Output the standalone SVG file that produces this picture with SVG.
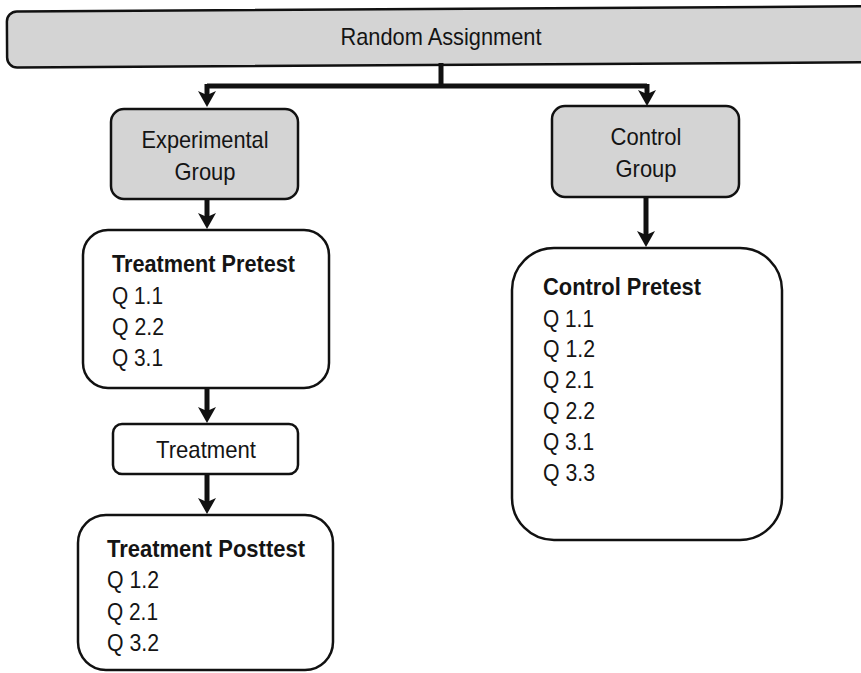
<svg xmlns="http://www.w3.org/2000/svg" width="861" height="673" viewBox="0 0 861 673">
  <style>
    .box { fill: #ffffff; stroke: #111111; stroke-width: 2.5; }
    .gray { fill: #d4d4d4; stroke: #111111; stroke-width: 2.5; }
    .t { font-family: "Liberation Sans", Arial, Helvetica, sans-serif; font-size: 24px; fill: #141414; }
    .c { text-anchor: middle; }
    .b { font-weight: bold; }
    .conn { fill: none; stroke: #111111; stroke-width: 5; }
  </style>
  <defs>
    <marker id="ah" viewBox="0 0 16 18" refX="10" refY="9" markerWidth="16" markerHeight="18" markerUnits="userSpaceOnUse" orient="auto">
      <path d="M0,0 L16,9 L0,18 L4,9 Z" fill="#111111"/>
    </marker>
  </defs>
  <rect width="861" height="673" fill="#ffffff"/>

  <g id="random-assignment">
    <rect class="gray" x="7" y="9" width="890" height="56" rx="10" transform="rotate(-0.35 430 37)"/>
    <text class="t c" x="441" y="45" textLength="201" lengthAdjust="spacingAndGlyphs">Random Assignment</text>
  </g>

  <g id="connectors">
    <path class="conn" d="M441,63 V86" />
    <path class="conn" d="M207,86 H647" stroke-width="6"/>
    <path class="conn" d="M207,84 V101" marker-end="url(#ah)"/>
    <path class="conn" d="M647,84 V100" marker-end="url(#ah)"/>
    <path class="conn" d="M207,199 V223" marker-end="url(#ah)"/>
    <path class="conn" d="M646,197 V241" marker-end="url(#ah)"/>
    <path class="conn" d="M207,388 V417" marker-end="url(#ah)"/>
    <path class="conn" d="M207,474 V508" marker-end="url(#ah)"/>
  </g>

  <g id="experimental-group">
    <rect class="gray" x="111" y="109" width="187" height="90" rx="13"/>
    <text class="t c" x="205" y="148" textLength="127" lengthAdjust="spacingAndGlyphs">Experimental</text>
    <text class="t c" x="205" y="180" textLength="61" lengthAdjust="spacingAndGlyphs">Group</text>
  </g>

  <g id="control-group">
    <rect class="gray" x="552" y="106" width="187" height="91" rx="13"/>
    <text class="t c" x="646" y="145" textLength="71" lengthAdjust="spacingAndGlyphs">Control</text>
    <text class="t c" x="646" y="177" textLength="61" lengthAdjust="spacingAndGlyphs">Group</text>
  </g>

  <g id="treatment-pretest">
    <rect class="box" x="83" y="230" width="246" height="158" rx="25"/>
    <text class="t b" x="112" y="272" textLength="183" lengthAdjust="spacingAndGlyphs">Treatment Pretest</text>
    <text class="t" x="112" y="304" textLength="51" lengthAdjust="spacingAndGlyphs">Q 1.1</text>
    <text class="t" x="112" y="335" textLength="52" lengthAdjust="spacingAndGlyphs">Q 2.2</text>
    <text class="t" x="112" y="366" textLength="51" lengthAdjust="spacingAndGlyphs">Q 3.1</text>
  </g>

  <g id="treatment">
    <rect class="box" x="113" y="424" width="185" height="50" rx="9"/>
    <text class="t c" x="206" y="458" textLength="100" lengthAdjust="spacingAndGlyphs">Treatment</text>
  </g>

  <g id="treatment-posttest">
    <rect class="box" x="78" y="515" width="255" height="155" rx="28"/>
    <text class="t b" x="107" y="557" textLength="198" lengthAdjust="spacingAndGlyphs">Treatment Posttest</text>
    <text class="t" x="107" y="588" textLength="52" lengthAdjust="spacingAndGlyphs">Q 1.2</text>
    <text class="t" x="107" y="620" textLength="51" lengthAdjust="spacingAndGlyphs">Q 2.1</text>
    <text class="t" x="107" y="651" textLength="52" lengthAdjust="spacingAndGlyphs">Q 3.2</text>
  </g>

  <g id="control-pretest">
    <rect class="box" x="512" y="248" width="270" height="292" rx="42"/>
    <text class="t b" x="543" y="295" textLength="158" lengthAdjust="spacingAndGlyphs">Control Pretest</text>
    <text class="t" x="543" y="327" textLength="51" lengthAdjust="spacingAndGlyphs">Q 1.1</text>
    <text class="t" x="543" y="357" textLength="52" lengthAdjust="spacingAndGlyphs">Q 1.2</text>
    <text class="t" x="543" y="388" textLength="51" lengthAdjust="spacingAndGlyphs">Q 2.1</text>
    <text class="t" x="543" y="419" textLength="52" lengthAdjust="spacingAndGlyphs">Q 2.2</text>
    <text class="t" x="543" y="450" textLength="51" lengthAdjust="spacingAndGlyphs">Q 3.1</text>
    <text class="t" x="543" y="481" textLength="52" lengthAdjust="spacingAndGlyphs">Q 3.3</text>
  </g>
</svg>
